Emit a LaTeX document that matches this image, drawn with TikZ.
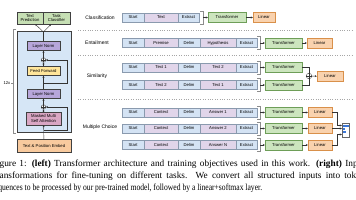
\documentclass[tikz,border=0pt]{standalone}
\usepackage{fontspec}
\setmainfont{Liberation Serif}
\setsansfont{Liberation Sans}
\usetikzlibrary{arrows.meta,calc}
\definecolor{tokblue}{HTML}{D4E3F4}
\definecolor{tokpurp}{HTML}{E1D5EA}
\definecolor{tokdraw}{HTML}{8A9AAE}
\definecolor{trfill}{HTML}{CCE5BE}
\definecolor{trdraw}{HTML}{6E9E58}
\definecolor{linfill}{HTML}{F9D2AE}
\definecolor{lindraw}{HTML}{D9904A}
\definecolor{bluebox}{HTML}{D6E6F6}
\definecolor{lnfill}{HTML}{B7A6DA}
\definecolor{fffill}{HTML}{FFE59A}
\definecolor{attfill}{HTML}{D9A6C3}
\definecolor{embfill}{HTML}{F8CA9E}
\definecolor{topgreen}{HTML}{C6DFB4}
\definecolor{smblue}{HTML}{3C78D8}
\newcommand\dgfont{\sffamily\fontsize{4.2}{4.8}\selectfont}
\newcommand\lbfont{\sffamily\fontsize{5}{6}\selectfont}
\tikzset{
  tok/.style={draw=tokdraw, line width=0.4pt, minimum height=9, inner sep=0, font=\dgfont},
  tb/.style={tok, fill=tokblue},
  tpu/.style={tok, fill=tokpurp},
  trf/.style={draw=trdraw, fill=trfill, line width=0.4pt, minimum height=10, minimum width=37, inner sep=0, font=\dgfont},
  lin/.style={draw=lindraw, fill=linfill, line width=0.4pt, minimum height=10, inner sep=0, font=\dgfont},
  blk/.style={draw=black!75, line width=0.4pt, minimum width=33, minimum height=9, inner sep=0, align=center, font=\dgfont},
  arr/.style={draw=black!80, line width=0.4pt, -{Stealth[length=2pt,width=2pt]}},
  ln/.style={draw=black!80, line width=0.4pt},
  brk/.style={draw=black!45, line width=0.4pt},
  sep/.style={draw=black!35, line width=0.4pt, dotted},
  plus/.style={circle, draw=black!80, fill=white, line width=0.4pt, inner sep=0, minimum size=4.5},
  lbl/.style={font=\lbfont, inner sep=0}
}
\begin{document}
\begin{tikzpicture}[x=1pt,y={(0,-1pt)}]
\useasboundingbox (0,0) rectangle (356,200);
\clip (0,0) rectangle (356,200);
\fill[white] (0,0) rectangle (356,200);

% ---------- left: transformer block ----------
\node[draw=black!75, fill=bluebox, line width=0.4pt, minimum width=54, minimum height=101, inner sep=0] (block) at (44,81.5) {};
\node[blk, fill=topgreen, minimum width=26, minimum height=12] (tp) at (30,18) {Text\\Prediction};
\node[blk, fill=topgreen, minimum width=27, minimum height=12] (tc) at (56.5,18) {Task\\Classifier};
\node[blk, fill=lnfill] (ln1) at (43.5,46) {Layer Norm};
\node[plus] (p1) at (43.5,60) {};
\node[blk, fill=fffill] (ff) at (43.5,71) {Feed Forward};
\node[blk, fill=lnfill] (ln2) at (43.5,94) {Layer Norm};
\node[plus] (p2) at (43.5,107) {};
\node[blk, fill=attfill, minimum width=35, minimum height=13] (att) at (43.5,118.5) {Masked Multi\\Self Attention};
\node[blk, fill=embfill, minimum width=54, minimum height=13] (emb) at (44,146) {Text \& Position Embed};
\draw[ln] (p1.north) -- (p1.south) (p1.west) -- (p1.east);
\draw[ln] (p2.north) -- (p2.south) (p2.west) -- (p2.east);

\draw[arr] (emb) -- (att);
\draw[arr] (att) -- (p2);
\draw[arr] (p2) -- (ln2);
\draw[arr] (ln2) -- (ff);
\draw[arr] (ff) -- (p1);
\draw[arr] (p1) -- (ln1);
\coordinate (split) at (43.5,32);
\draw[ln] (ln1) -- (split);
\draw[arr] (split) -- ($(tp.south)!0.4!(tp.south east)$);
\draw[arr] (split) -- ($(tc.south)!0.4!(tc.south west)$);
% residuals
\coordinate (r2) at (43.5,130);
\coordinate (r2c) at (67,130);
\draw[arr] (r2) -- (r2c) |- (p2);
\coordinate (r1) at (43.5,83);
\coordinate (r1c) at (67,83);
\draw[arr] (r1) -- (r1c) |- (p1);
% 12x bracket
\draw[brk] (16,29) -- (13,29) -- (13,133) -- (16,133);
\coordinate (bx) at (13,83);
\coordinate (bxl) at (10.5,83);
\draw[brk] (bx) -- (bxl);
\node[lbl, anchor=east, font=\dgfont] (twelve) at (bxl) {12x};

% ---------- right: task labels and separators ----------
\node[lbl] (lcls) at (100,17.5) {Classification};
\node[lbl] (lent) at (97,43) {Entailment};
\node[lbl] (lsim) at (97,76.5) {Similarity};
\node[lbl] (lmc) at (100,127.5) {Multiple Choice};
\draw[sep] (78,30) -- (352,30);
\draw[sep] (78,55) -- (352,55);
\draw[sep] (78,99) -- (352,99);

% classification
\node[tb, minimum width=22] (c1) at (133,17.5) {Start};
\node[tpu, minimum width=34] (c2) at (161,17.5) {Text};
\node[tb, minimum width=21] (c3) at (188.5,17.5) {Extract};
\draw[brk] (200,11) -- (203,11) -- (203,24) -- (200,24);
\coordinate (cb) at (203,17.5);
\node[trf, minimum width=38] (ct) at (227,17.5) {Transformer};
\node[lin, minimum width=22] (cl) at (264,17.5) {Linear};
\draw[arr] (cb) -- (ct);
\draw[arr] (ct) -- (cl);

% entailment
\node[tb, minimum width=22] (e1) at (133,43) {Start};
\node[tpu, minimum width=34] (e2) at (161,43) {Premise};
\node[tb, minimum width=22] (e3) at (189,43) {Delim};
\node[tpu, minimum width=36] (e4) at (218,43) {Hypothesis};
\node[tb, minimum width=21] (e5) at (246.5,43) {Extract};
\draw[brk] (257,36.5) -- (260,36.5) -- (260,49.5) -- (257,49.5);
\coordinate (eb) at (260,43);
\node[trf] (et) at (283.5,43) {Transformer};
\node[lin, minimum width=25] (el) at (319.5,43) {Linear};
\draw[arr] (eb) -- (et);
\draw[arr] (et) -- (el);

% similarity
\node[tb, minimum width=22] (s11) at (133,67.5) {Start};
\node[tpu, minimum width=34] (s12) at (161,67.5) {Text 1};
\node[tb, minimum width=22] (s13) at (189,67.5) {Delim};
\node[tpu, minimum width=36] (s14) at (218,67.5) {Text 2};
\node[tb, minimum width=21] (s15) at (246.5,67.5) {Extract};
\draw[brk] (257,61) -- (260,61) -- (260,74) -- (257,74);
\coordinate (s1b) at (260,67.5);
\node[trf] (s1t) at (283.5,67.5) {Transformer};
\draw[arr] (s1b) -- (s1t);
\node[tb, minimum width=22] (s21) at (133,85) {Start};
\node[tpu, minimum width=34] (s22) at (161,85) {Text 2};
\node[tb, minimum width=22] (s23) at (189,85) {Delim};
\node[tpu, minimum width=36] (s24) at (218,85) {Text 1};
\node[tb, minimum width=21] (s25) at (246.5,85) {Extract};
\draw[brk] (257,78.5) -- (260,78.5) -- (260,91.5) -- (257,91.5);
\coordinate (s2b) at (260,85);
\node[trf] (s2t) at (283.5,85) {Transformer};
\draw[arr] (s2b) -- (s2t);
\node[plus, minimum size=5.5] (sp) at (309,76) {};
\draw[ln] (sp.north) -- (sp.south) (sp.west) -- (sp.east);
\draw[ln] (s1t.east) -| (sp.north);
\draw[ln] (s2t.east) -| (sp.south);
\node[lin, minimum width=26] (sl) at (330,76.5) {Linear};
\draw[arr] (sp) -- (sl);

% multiple choice
\foreach \y/\ans/\nm in {112.5/Answer 1/a, 128.5/Answer 2/b, 145/Answer N/c}{
  \node[tb, minimum width=22] (m\nm1) at (133,\y) {Start};
  \node[tpu, minimum width=34] (m\nm2) at (161,\y) {Context};
  \node[tb, minimum width=22] (m\nm3) at (189,\y) {Delim};
  \node[tpu, minimum width=36] (m\nm4) at (218,\y) {\ans};
  \node[tb, minimum width=21] (m\nm5) at (246.5,\y) {Extract};
  \draw[brk] (257,\y-6.5) -- (260,\y-6.5) -- (260,\y+6.5) -- (257,\y+6.5);
  \coordinate (m\nm b) at (260,\y);
  \node[trf] (m\nm t) at (283.5,\y) {Transformer};
  \node[lin, minimum width=24] (m\nm l) at (320,\y) {Linear};
  \draw[arr] (m\nm b) -- (m\nm t);
  \draw[arr] (m\nm t) -- (m\nm l);
}
\node[draw=black!60, fill=white, line width=0.4pt, minimum width=7, minimum height=14, inner sep=0] (soft) at (345.5,130) {};
\fill[smblue] (343,125) rectangle (348.5,126.8);
\fill[smblue] (343,128.3) rectangle (345,130);
\fill[smblue] (343,131.5) rectangle (346.2,133.2);
\coordinate (sma) at (337,125.5);
\coordinate (smc) at (337,134.5);
\draw[ln] (mal.east) -| (sma);
\draw[arr] (sma) -- (sma -| soft.west);
\draw[arr] (mbl.east) -- (mbl.east -| soft.west);
\draw[ln] (mcl.east) -| (smc);
\draw[arr] (smc) -- (smc -| soft.west);

% ---------- caption ----------
\begin{scope}[every node/.style={inner sep=0, anchor=base west, font=\fontsize{9.3}{11}\selectfont}]
\node (cap1) at (-8.3,167) {\makebox[373pt][s]{Figure 1: \textbf{(left)} Transformer architecture and training objectives used in this work. \textbf{(right)} Input}};
\node (cap2) at (-6.2,179) {\makebox[371pt][s]{transformations for fine-tuning on different tasks.\ \ We convert all structured inputs into token}};
\node (cap3) at (-8.3,191) {\scalebox{0.82}[1]{sequences to be processed by our pre-trained model, followed by a linear+softmax layer.}};
\end{scope}
\end{tikzpicture}
\end{document}
